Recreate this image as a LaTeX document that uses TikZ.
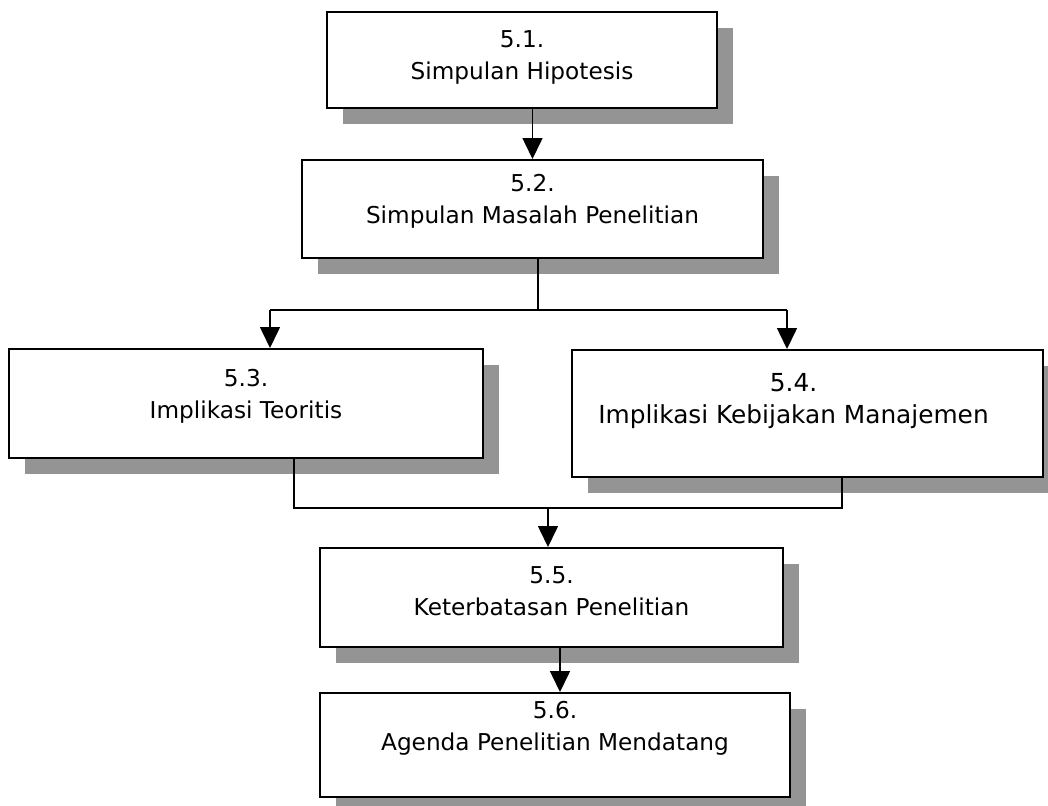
\documentclass[tikz,border=0pt]{standalone}
\usepackage{fontspec}
\setmainfont{DejaVu Sans}
\usetikzlibrary{arrows.meta, positioning, shadows, calc}

\begin{document}
\begin{tikzpicture}[x=0.5pt, y=-0.5pt,
  box/.style={draw, line width=1pt, fill=white, inner sep=0pt,
    drop shadow={shadow xshift=8pt, shadow yshift=-8pt, fill=black!42, opacity=1}},
  txt/.style={align=center, inner sep=0pt, font=\fontsize{11.6}{16}\selectfont},
  link/.style={line width=0.75pt},
  arr/.style={link, -{Triangle[width=10pt,length=10.5pt]}}]
  \useasboundingbox (0,0) rectangle (1048,805);

  % Boxes
  \node[box, minimum width=195pt, minimum height=48pt] (b51) at (522,60) {};
  \node[box, minimum width=230.5pt, minimum height=49pt] (b52) at (532.5,209) {};
  \node[box, minimum width=237pt, minimum height=54.5pt] (b53) at (246,403.5) {};
  \node[box, minimum width=235.5pt, minimum height=63.5pt] (b54) at (807.5,413.5) {};
  \node[box, minimum width=231.5pt, minimum height=49.5pt] (b55) at (551.5,597.5) {};
  \node[box, minimum width=235pt, minimum height=52pt] (b56) at (555,745) {};

  % Texts
  \node[txt] (t51) at ($(b51.north)+(0,46)$) {5.1.\\Simpulan Hipotesis};
  \node[txt] (t52) at ($(b52.north)+(0,42)$) {5.2.\\Simpulan Masalah Penelitian};
  \node[txt] (t53) at ($(b53.north)+(0,48)$) {5.3.\\Implikasi Teoritis};
  \node[txt, font=\fontsize{12.4}{16}\selectfont] (t54) at ($(b54.north)+(-14,52)$) {5.4.\\Implikasi Kebijakan Manajemen};
  \node[txt] (t55) at ($(b55.north)+(0,44)$) {5.5.\\Keterbatasan Penelitian};
  \node[txt] (t56) at ($(b56.north)+(0,36)$) {5.6.\\Agenda Penelitian Mendatang};

  % Branch points
  \coordinate (s2) at (538,310);
  \coordinate (s3) at (270,310);
  \coordinate (s4) at (787,310);
  \coordinate (m3) at (294,508);
  \coordinate (m4) at (842,508);
  \coordinate (m5) at (548,508);
  \coordinate (k5) at (560,0);

  % Connectors
  \draw[arr] (b51.south -| b52.north) -- (b52.north);
  \draw[link] (b52.south -| s2) -- (s2);
  \draw[link] (s3) -- (s4);
  \draw[arr] (s3) -- (s3 |- b53.north);
  \draw[arr] (s4) -- (s4 |- b54.north);
  \draw[link] (b53.south -| m3) -- (m3) -- (m4) -- (b54.south -| m4);
  \draw[arr] (m5) -- (m5 |- b55.north);
  \draw[arr] (b55.south -| k5) -- (b56.north -| k5);
\end{tikzpicture}
\end{document}
